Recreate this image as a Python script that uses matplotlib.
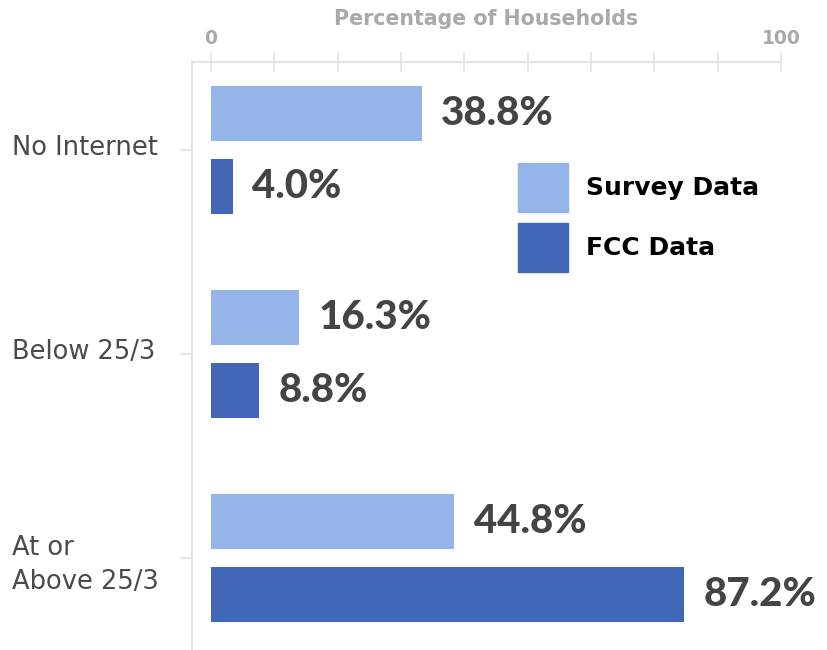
import numpy as np
import matplotlib
matplotlib.use("Agg")
import matplotlib.pyplot as plt
from matplotlib.patches import Patch
from matplotlib.transforms import blended_transform_factory, ScaledTranslation

categories = ["No Internet", "Below 25/3", "At or\nAbove 25/3"]
survey_vals = [38.8, 16.3, 44.8]
fcc_vals = [4.0, 8.8, 87.2]
series_names = ["Survey Data", "FCC Data"]
x_max = 105
x_ticks = np.linspace(0, x_max, 10)
x_ticklabels = ["0"] + [""] * 8 + ["100"]

light_blue = "#95b5ea"
dark_blue = "#4267b7"
grid_gray = "#e3e3e3"
label_gray = "#a9a9a9"
text_dark = "#444444"

plt.rcParams['font.family'] = ['DejaVu Sans']

fig = plt.figure(figsize=(8.27, 6.5), dpi=100)
ax = fig.add_axes([192 / 827, 0, 589 / 827, 1 - 62 / 650])

y = np.arange(len(categories))
off = 0.179
h = 0.27
ax.barh(y - off, survey_vals, height=h, color=light_blue, label=series_names[0])
ax.barh(y + off, fcc_vals, height=h, color=dark_blue, label=series_names[1])

# value labels
for vals, pos in [(survey_vals, y - off), (fcc_vals, y + off)]:
    for yy, v in zip(pos, vals):
        ax.annotate(f"{v:.1f}%", (v, yy), xytext=(14, 0), textcoords="offset points",
                    ha="left", va="center", fontsize=29, fontweight="black",
                    family=["Lato", "DejaVu Sans"],
                    color=text_dark, annotation_clip=False)

ax.set_xlim(-3.5, x_max)
ax.set_ylim(2.451, -0.431)

# top x axis
ax.xaxis.tick_top()
ax.xaxis.set_label_position("top")
ax.set_xticks(x_ticks)
ax.set_xticklabels(x_ticklabels)
ax.tick_params(axis="x", direction="inout", length=14, width=1.2, color=grid_gray,
               labelcolor=label_gray, labelsize=13.5, pad=3)
for t in ax.get_xticklabels():
    t.set_fontweight("bold")
ax.set_xlabel("Percentage of Households", fontsize=14.8, fontweight="bold",
              color=label_gray, labelpad=3)

# y axis: ticks only, labels drawn left-aligned
ax.set_yticks(y)
ax.set_yticklabels([])
ax.tick_params(axis="y", direction="out", length=9, width=1.2, color=grid_gray)
trans = blended_transform_factory(fig.transFigure, ax.transData)
for yy, c in zip(y, categories):
    shift = -5 / 72 if "\n" in c else 1.5 / 72
    ax.text(12 / 827, yy, c,
            transform=trans + ScaledTranslation(0, shift, fig.dpi_scale_trans),
            ha="left", va="center", fontsize=18.5, color="#4a4a4a", linespacing=1.4)

for s in ["right", "bottom"]:
    ax.spines[s].set_visible(False)
for s in ["top", "left"]:
    ax.spines[s].set_color(grid_gray)
    ax.spines[s].set_linewidth(1.5)

handles = [Patch(color=light_blue), Patch(color=dark_blue)]
ax.legend(handles, series_names, loc="upper left",
          bbox_to_anchor=(518 / 827, 1 - 163 / 650), bbox_transform=fig.transFigure,
          frameon=False, borderpad=0, borderaxespad=0,
          prop={"weight": "bold", "size": 18},
          handlelength=2.0, handleheight=2.63, handletextpad=0.7,
          labelspacing=0.44, labelcolor="black")

fig.savefig("out.png", dpi=100)
